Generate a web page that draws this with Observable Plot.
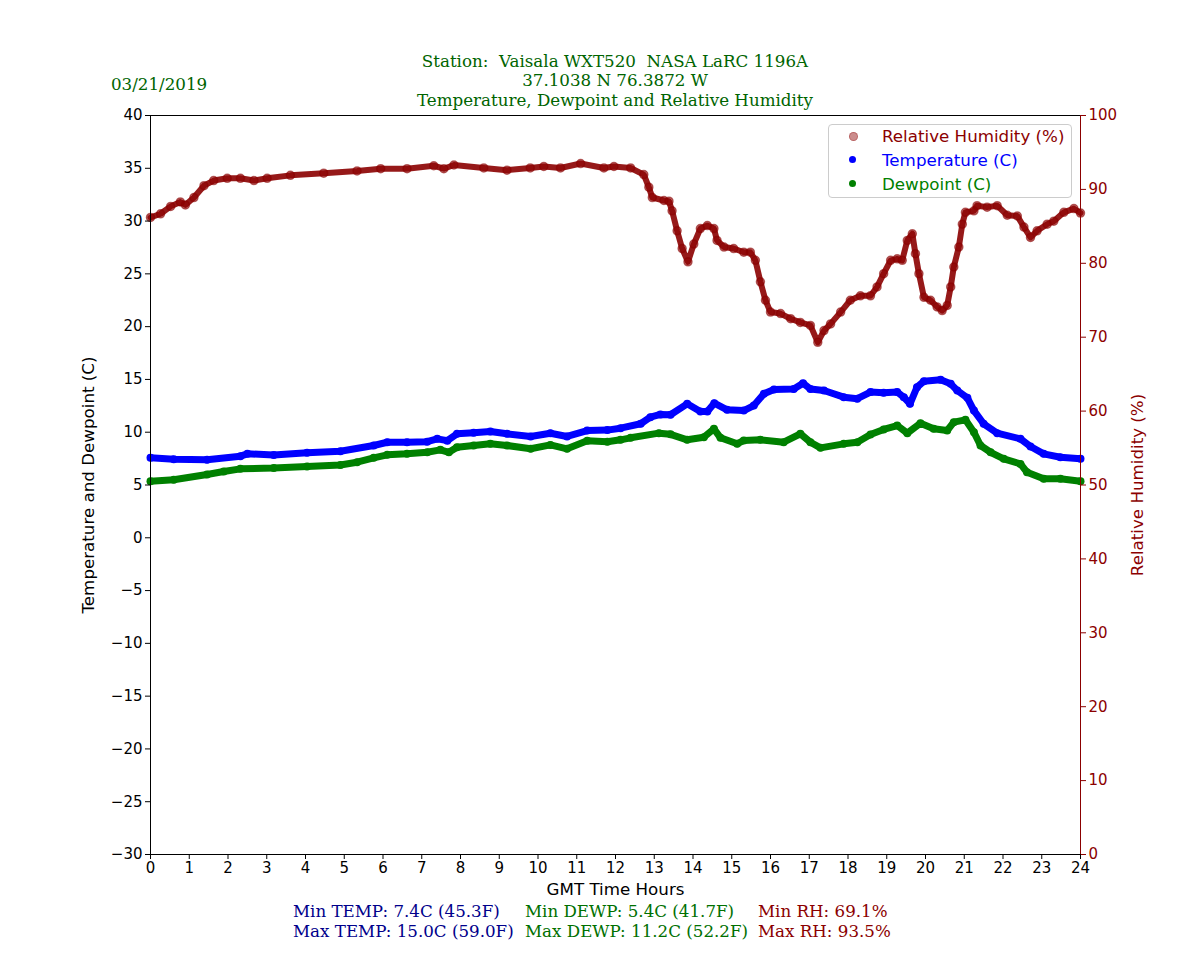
<!DOCTYPE html>
<html><head><meta charset="utf-8">
<script src="https://cdn.jsdelivr.net/npm/d3@7"></script>
<script src="https://cdn.jsdelivr.net/npm/@observablehq/plot@0.6"></script>
<style>
body{margin:0;background:#fff;}
#wrap{position:relative;width:1200px;height:960px;overflow:hidden;}
.s{position:absolute;font-family:"DejaVu Serif",serif;font-size:16.7px;line-height:20px;white-space:nowrap;}
.lg{position:absolute;font-family:"DejaVu Sans",sans-serif;font-size:16.7px;line-height:20px;white-space:nowrap;}
.dot{position:absolute;width:7px;height:7px;border-radius:50%;}
</style></head><body>
<div id="wrap">
<div id="chart"></div>
<div class="s" style="left:315px;width:600px;top:51px;text-align:center;color:#006400">Station:&nbsp; Vaisala WXT520&nbsp; NASA LaRC 1196A</div>
<div class="s" style="left:315px;width:600px;top:70px;text-align:center;color:#006400">37.1038 N 76.3872 W</div>
<div class="s" style="left:315px;width:600px;top:90px;text-align:center;color:#006400">Temperature, Dewpoint and Relative Humidity</div>
<div class="s" style="left:111px;top:74px;color:#006400">03/21/2019</div>
<div class="s" style="left:293px;top:901px;color:#00008b">Min TEMP: 7.4C (45.3F)</div>
<div class="s" style="left:293px;top:921px;color:#00008b">Max TEMP: 15.0C (59.0F)</div>
<div class="s" style="left:525px;top:901px;color:#007000">Min DEWP: 5.4C (41.7F)</div>
<div class="s" style="left:525px;top:921px;color:#007000">Max DEWP: 11.2C (52.2F)</div>
<div class="s" style="left:758px;top:901px;color:#8b0000">Min RH: 69.1%</div>
<div class="s" style="left:758px;top:921px;color:#8b0000">Max RH: 93.5%</div>
<div style="position:absolute;left:828px;top:124px;width:242px;height:72px;border:1px solid #cccccc;border-radius:4px;background:rgba(255,255,255,0.8)"></div>
<div class="dot" style="left:849px;top:132px;background:rgba(139,0,0,0.45);border:0.5px solid rgba(139,0,0,0.3)"></div>
<div class="dot" style="left:849px;top:156px;background:#0000ff"></div>
<div class="dot" style="left:849px;top:180px;background:#008000"></div>
<div class="lg" style="left:882px;top:126px;color:#8b0000">Relative Humidity (%)</div>
<div class="lg" style="left:882px;top:150px;color:#0000ff">Temperature (C)</div>
<div class="lg" style="left:882px;top:174px;color:#008000">Dewpoint (C)</div>
</div>
<script>
const rhHours = [0,0.26,0.52,0.77,0.9,1.12,1.38,1.63,1.98,2.32,2.67,3.01,3.61,4.47,5.33,5.94,6.62,7.31,7.57,7.83,8.6,9.2,9.8,10.15,10.58,11.1,11.7,11.96,12.39,12.73,12.86,12.95,13.25,13.38,13.46,13.59,13.72,13.87,14.02,14.19,14.37,14.54,14.62,14.8,15.05,15.31,15.48,15.61,15.74,15.87,16.0,16.26,16.52,16.77,17.03,17.22,17.38,17.55,17.81,18.06,18.32,18.58,18.75,18.92,19.1,19.27,19.4,19.53,19.66,19.74,19.83,19.96,20.13,20.3,20.43,20.56,20.65,20.73,20.86,20.95,21.03,21.25,21.33,21.59,21.85,22.11,22.37,22.54,22.71,22.88,23.14,23.31,23.57,23.83,24.0];
const rhValues = [86.2,86.7,87.7,88.3,87.9,88.9,90.5,91.2,91.5,91.5,91.2,91.5,91.9,92.2,92.5,92.8,92.8,93.2,92.8,93.3,92.9,92.6,92.9,93.1,92.9,93.5,92.9,93.1,92.9,92.0,90.3,88.9,88.5,88.4,87.1,84.4,82.0,80.2,82.6,84.7,85.1,84.7,83.1,82.2,82.0,81.5,81.5,80.4,77.5,75.0,73.4,73.2,72.5,72.0,71.6,69.3,70.9,71.8,73.4,75.0,75.6,75.6,76.8,78.6,80.4,80.6,80.4,83.1,84.0,81.3,78.6,75.4,75.0,74.1,73.6,74.3,76.8,79.5,82.2,85.3,86.9,87.1,87.8,87.6,87.8,86.5,86.4,84.9,83.5,84.4,85.3,85.7,86.9,87.4,86.8];
const tempHours = [0,0.6,1.46,2.32,2.5,3.18,4.04,4.9,5.76,6.11,6.62,7.14,7.4,7.66,7.91,8.34,8.77,9.2,9.81,10.32,10.75,11.27,11.79,12.13,12.65,12.9,13.16,13.42,13.85,14.19,14.37,14.55,14.88,15.31,15.57,15.83,16.09,16.6,16.84,17.03,17.38,17.89,18.24,18.58,18.92,19.27,19.44,19.6,19.78,19.96,20.39,20.65,20.82,21.08,21.25,21.5,21.85,22.45,22.71,23.05,23.48,24];
const tempValues = [7.57,7.44,7.4,7.73,7.95,7.85,8.05,8.2,8.74,9.05,9.05,9.1,9.37,9.2,9.85,9.95,10.07,9.85,9.6,9.9,9.6,10.16,10.2,10.38,10.8,11.42,11.68,11.65,12.69,11.96,11.96,12.75,12.12,12.05,12.53,13.64,14.05,14.1,14.64,14.1,13.95,13.32,13.17,13.8,13.73,13.8,13.32,12.69,14.26,14.83,14.96,14.58,13.95,13.26,12.05,10.8,9.91,9.37,8.65,7.95,7.63,7.48];
const dewHours = [0,0.6,1.46,1.89,2.32,3.18,4.04,4.9,5.33,5.76,6.11,6.62,7.14,7.48,7.7,7.91,8.34,8.77,9.2,9.81,10.32,10.75,11.27,11.79,12.13,12.39,13.12,13.42,13.85,14.28,14.54,14.71,15.14,15.31,15.74,16.34,16.77,17.03,17.29,17.89,18.24,18.58,18.92,19.27,19.53,19.87,20.21,20.56,20.73,21.03,21.25,21.42,21.68,22.02,22.45,22.62,23.05,23.48,24];
const dewValues = [5.36,5.49,6.0,6.28,6.53,6.6,6.75,6.9,7.16,7.57,7.86,7.95,8.1,8.33,8.1,8.58,8.74,8.9,8.74,8.43,8.8,8.43,9.2,9.1,9.28,9.47,9.91,9.8,9.28,9.53,10.32,9.47,8.9,9.22,9.28,9.05,9.85,9.05,8.52,8.9,9.05,9.78,10.26,10.63,9.91,10.85,10.32,10.16,10.95,11.17,10.0,8.74,8.1,7.48,7.0,6.21,5.59,5.59,5.36];
const xTicks = d3.range(0, 25, 1);
const yTicks = [-30,-25,-20,-15,-10,-5,0,5,10,15,20,25,30,35,40];
const rhTicks = [0,10,20,30,40,50,60,70,80,90,100];

const toLeft = v => -30 + v * 0.7;
const rh = rhHours.map((h, i) => ({h, v: toLeft(rhValues[i])}));
const temp = tempHours.map((h, i) => ({h, v: tempValues[i]}));
const dew = dewHours.map((h, i) => ({h, v: dewValues[i]}));

const chart = Plot.plot({
  width: 1200, height: 960,
  marginTop: 115, marginBottom: 106, marginLeft: 150, marginRight: 120,
  x: {domain: [0, 24]},
  y: {domain: [-30, 40]},
  style: {fontFamily: "DejaVu Sans", fontSize: "15px", color: "black", background: "white"},
  marks: [
    Plot.line(dew, {x: "h", y: "v", stroke: "#008000", strokeWidth: 7}),
    Plot.dot(dew, {x: "h", y: "v", fill: "#008000", r: 4}),
    Plot.line(temp, {x: "h", y: "v", stroke: "#0000ff", strokeWidth: 7}),
    Plot.dot(temp, {x: "h", y: "v", fill: "#0000ff", r: 4}),
    Plot.line(rh, {x: "h", y: "v", stroke: "#8b0000", strokeWidth: 6, strokeOpacity: 0.9}),
    Plot.dot(rh, {x: "h", y: "v", fill: "#8b0000", fillOpacity: 0.5, stroke: "#8b0000", strokeOpacity: 0.6, r: 4}),
    Plot.frame({stroke: "black"}),
    Plot.ruleX([24], {stroke: "#8b0000"}),
    Plot.axisX({ticks: xTicks, tickFormat: d => String(d), tickSize: 5, tickPadding: 3, label: null, fontSize: 15}),
    Plot.axisY({ticks: yTicks, tickSize: 5, tickPadding: 3, label: null, fontSize: 15}),
    Plot.axisY({anchor: "right", ticks: rhTicks.map(toLeft), tickFormat: d => String(Math.round((d + 30) / 0.7)), tickSize: 5, tickPadding: 3, stroke: "#8b0000", color: "#8b0000", label: null, fontSize: 15}),
    Plot.text(["Temperature and Dewpoint (C)"], {frameAnchor: "left", textAnchor: "middle", dx: -62, rotate: -90, fontSize: 16.7, fill: "black"}),
    Plot.text(["Relative Humidity (%)"], {frameAnchor: "right", textAnchor: "middle", dx: 57, rotate: -90, fontSize: 16.7, fill: "#8b0000"}),
    Plot.text(["GMT Time Hours"], {frameAnchor: "bottom", dy: 40, fontSize: 16.7, fill: "black"})
  ]
});
document.getElementById("chart").appendChild(chart);
</script>
</body></html>
